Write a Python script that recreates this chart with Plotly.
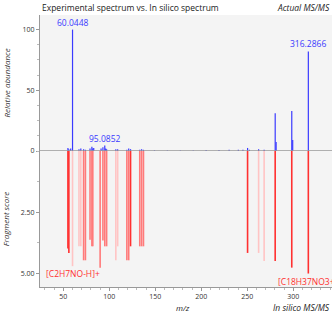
import plotly.graph_objects as go

# Experimental MS/MS peaks (m/z, relative abundance)
exp_mz = [55.05, 56.05, 58.07, 60.0448, 67.05, 69.07, 72.08, 74.06, 79.05, 81.07,
          82.07, 83.08, 91.05, 93.07, 95.0852, 96.08, 97.10, 107.09, 109.10, 119.09,
          121.10, 123.10, 133.10, 135.10, 137.10, 149.1, 163.1, 177.2, 191.2, 205.2,
          219.2, 230.2, 240.2, 245.2, 250.25, 252.26, 262.25, 268.26, 280.2764,
          281.28, 298.2870, 299.29, 316.2866]
exp_int = [2.5, 1.5, 2.0, 100.0, 1.5, 2.0, 1.5, 1.0, 2.0, 3.5,
           2.0, 2.5, 2.0, 3.0, 4.5, 2.0, 1.5, 1.5, 1.5, 1.0,
           2.0, 1.5, 1.0, 1.5, 1.0, 0.5, 0.5, 0.5, 0.5, 0.8,
           0.8, 1.0, 1.0, 1.0, 2.5, 1.0, 1.5, 1.0, 31.0,
           7.5, 33.0, 9.0, 82.0]
labelled_peaks = [60.0448, 95.0852, 316.2866]

# In silico fragments (m/z, fragment score, match level)
sil_mz = [55.05, 56.06, 60.04, 67.05, 69.07, 72.08, 74.06, 79.05, 81.07, 82.08,
          90.05, 93.07, 95.09, 97.10, 107.09, 109.10, 119.09, 121.10, 123.10,
          133.10, 135.12, 137.13, 250.25, 262.25, 268.26, 280.26, 298.27, 316.28]
sil_score = [3.98, 4.16, 4.70, 3.89, 3.89, 4.46, 4.46, 3.62, 3.89, 3.89,
             4.76, 3.65, 3.89, 3.89, 4.46, 3.89, 4.46, 4.46, 3.89,
             3.89, 3.89, 3.89, 4.16, 4.16, 4.49, 4.49, 4.76, 5.00]
sil_level = ["strong", "strong", "weak", "weak", "weak", "medium", "medium", "medium", "medium", "medium",
             "medium", "medium", "medium", "medium", "weak", "weak", "medium", "medium", "strong",
             "medium", "medium", "medium", "strong", "weak", "weak", "strong", "strong", "strong"]
fragment_labels = [(60.04, "[C2H7NO-H]+"), (316.28, "[C18H37NO3+H]+")]

BLUE = "#3a3aff"
RED_COLORS = {"strong": "#ff3030", "medium": "#ff7a7a", "weak": "#ffc4c4"}
FONT = "Open Sans"


def stick_xy(xs, ys):
    px, py = [], []
    for x, y in zip(xs, ys):
        px += [x, x, None]
        py += [0, y, None]
    return px, py


fig = go.Figure()

# experimental spectrum (upper panel)
bx, by = stick_xy(exp_mz, exp_int)
fig.add_trace(go.Scatter(x=bx, y=by, mode="lines", line=dict(color=BLUE, width=1.2),
                         xaxis="x", yaxis="y", hoverinfo="skip", showlegend=False))

# in silico spectrum (lower panel), grouped by match level
for level in ["weak", "medium", "strong"]:
    xs = [m for m, lv in zip(sil_mz, sil_level) if lv == level]
    ys = [s for s, lv in zip(sil_score, sil_level) if lv == level]
    rx, ry = stick_xy(xs, ys)
    fig.add_trace(go.Scatter(x=rx, y=ry, mode="lines",
                             line=dict(color=RED_COLORS[level], width=1.6),
                             xaxis="x", yaxis="y2", hoverinfo="skip", showlegend=False))

annotations = []
for m in labelled_peaks:
    annotations.append(dict(x=m, y=exp_int[exp_mz.index(m)], xref="x", yref="y",
                            text=f"{m:.4f}", showarrow=False, yanchor="bottom",
                            font=dict(family=FONT, size=8.5, color=BLUE)))
# fragment annotations: the first is centred under its stick, the last starts
# just left of the precursor stick and runs to the right edge
for i, (m, txt) in enumerate(fragment_labels):
    annotations.append(dict(x=m, y=sil_score[sil_mz.index(m)], xref="x", yref="y2",
                            text=txt, showarrow=False, yanchor="top",
                            xanchor="center" if i == 0 else "left",
                            xshift=0 if i == 0 else -32,
                            font=dict(family=FONT, size=8.5, color="#ff3030")))
annotations += [
    dict(x=0, y=1, xref="paper", yref="paper", xanchor="left", yanchor="bottom",
         text="Experimental spectrum vs. In silico spectrum", showarrow=False,
         font=dict(family=FONT, size=8.5, color="#222")),
    dict(x=1, y=1, xref="paper", yref="paper", xanchor="right", yanchor="bottom",
         text="<i>Actual MS/MS</i>", showarrow=False,
         font=dict(family=FONT, size=8.5, color="#222")),
    dict(x=180, y=0, xref="x", yref="paper", yanchor="middle", yshift=-20,
         text="<i>m/z</i>", showarrow=False, font=dict(family=FONT, size=8, color="#222")),
    dict(x=1, y=0, xref="paper", yref="paper", xanchor="right", yanchor="middle", yshift=-20,
         text="<i>In silico MS/MS</i>", showarrow=False,
         font=dict(family=FONT, size=8.5, color="#222")),
]

axis_common = dict(showgrid=False, zeroline=False, linecolor="#999", linewidth=1,
                   ticks="outside", ticklen=3, tickcolor="#999",
                   tickfont=dict(family=FONT, size=7, color="#333"))

fig.update_layout(
    width=332, height=320,
    margin=dict(l=40, r=0, t=15, b=33),
    paper_bgcolor="white", plot_bgcolor="#f4f4f4",
    xaxis=dict(range=[24.7, 342], anchor="y2", showline=True, tickvals=[50, 100, 150, 200, 250, 300],
               minor=dict(dtick=10, tick0=0, ticks="outside", ticklen=2, tickcolor="#bbb"),
               **axis_common),
    yaxis=dict(domain=[0.5, 1], range=[0, 112], showline=True, tickvals=[0, 50, 100],
               minor=dict(dtick=12.5, tick0=0, ticks="outside", ticklen=2, tickcolor="#bbb"),
               title=dict(text="<i>Relative abundance</i>", standoff=10,
                          font=dict(family=FONT, size=8, color="#333")),
               **axis_common),
    yaxis2=dict(domain=[0, 0.5], range=[5.55, 0], showline=True, anchor="x",
                tickvals=[2.5, 5.0], ticktext=["2.50", "5.00"],
                minor=dict(dtick=1.25, tick0=0, ticks="outside", ticklen=2, tickcolor="#bbb"),
                title=dict(text="<i>Fragment score</i>", standoff=10,
                           font=dict(family=FONT, size=8, color="#333")),
                **axis_common),
    annotations=annotations,
    shapes=[dict(type="line", xref="paper", yref="y", x0=0, x1=1, y0=0, y1=0,
                 line=dict(color="#999", width=1.5))],
)

fig.write_html("out.html")
